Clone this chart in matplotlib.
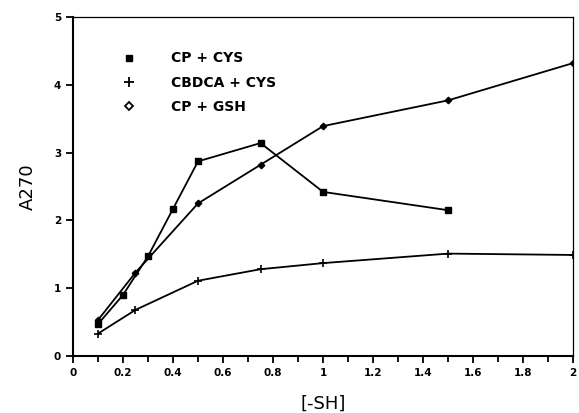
import matplotlib
matplotlib.use("Agg")
from matplotlib import pyplot as plt
from matplotlib.lines import Line2D

# CP + CYS (filled squares)
cp_cys_x = [0.1, 0.2, 0.3, 0.4, 0.5, 0.75, 1.0, 1.5]
cp_cys_y = [0.47, 0.90, 1.47, 2.17, 2.87, 3.14, 2.42, 2.15]

# CBDCA + CYS (plus)
cbdca_x = [0.1, 0.25, 0.5, 0.75, 1.0, 1.5, 2.0]
cbdca_y = [0.33, 0.68, 1.11, 1.28, 1.37, 1.51, 1.49]

# CP + GSH (diamonds)
cp_gsh_x = [0.1, 0.25, 0.5, 0.75, 1.0, 1.5, 2.0]
cp_gsh_y = [0.53, 1.23, 2.25, 2.82, 3.39, 3.77, 4.32]

labels = ["CP + CYS", "CBDCA + CYS", "CP + GSH"]
xticks = [0, 0.2, 0.4, 0.6, 0.8, 1.0, 1.2, 1.4, 1.6, 1.8, 2.0]
xtick_labels = ["0", "0.2", "0.4", "0.6", "0.8", "1", "1.2", "1.4", "1.6", "1.8", "2"]
xminor = [0.1, 0.3, 0.5, 0.7, 0.9, 1.1, 1.3, 1.5, 1.7, 1.9]
yticks = [0, 1, 2, 3, 4, 5]

fig = plt.figure(figsize=(5.79, 4.13), dpi=100)
ax = fig.add_axes([0.126, 0.138, 0.864, 0.821])

ax.plot(cp_cys_x, cp_cys_y, color="black", lw=1.3, marker="s", ms=3.8)
ax.plot(cbdca_x, cbdca_y, color="black", lw=1.3, marker="+", ms=6, mew=1.2)
ax.plot(cp_gsh_x, cp_gsh_y, color="black", lw=1.3, marker="D", ms=3.3)

ax.set_xlim(0, 2)
ax.set_ylim(0, 5)
ax.set_xticks(xticks, xtick_labels)
ax.set_xticks(xminor, minor=True)
ax.set_yticks(yticks, [str(v) for v in yticks])
ax.tick_params(axis="both", which="major", direction="out", length=5, width=1.3,
               labelsize=7.5)
ax.tick_params(axis="x", which="minor", direction="out", length=4, width=1.3)
for lab in ax.get_xticklabels() + ax.get_yticklabels():
    lab.set_fontweight("bold")

ax.spines["left"].set_linewidth(1.5)
ax.spines["bottom"].set_linewidth(1.5)
ax.spines["top"].set_linewidth(0.9)
ax.spines["right"].set_linewidth(0.9)

ax.set_ylabel("A270", fontsize=13, labelpad=12)
ax.set_xlabel("[-SH]", fontsize=13, labelpad=12)

handles = [
    Line2D([], [], ls="none", marker="s", color="black", ms=5),
    Line2D([], [], ls="none", marker="+", color="black", ms=7, mew=1.3),
    Line2D([], [], ls="none", marker="D", mfc="white", mec="black", mew=1.3, ms=4.5),
]
ax.legend(handles, labels, loc="upper left", bbox_to_anchor=(0.06, 0.935),
          frameon=False, handletextpad=2.0, labelspacing=0.75,
          prop={"weight": "bold", "size": 10})

fig.savefig("out.png", dpi=100)
